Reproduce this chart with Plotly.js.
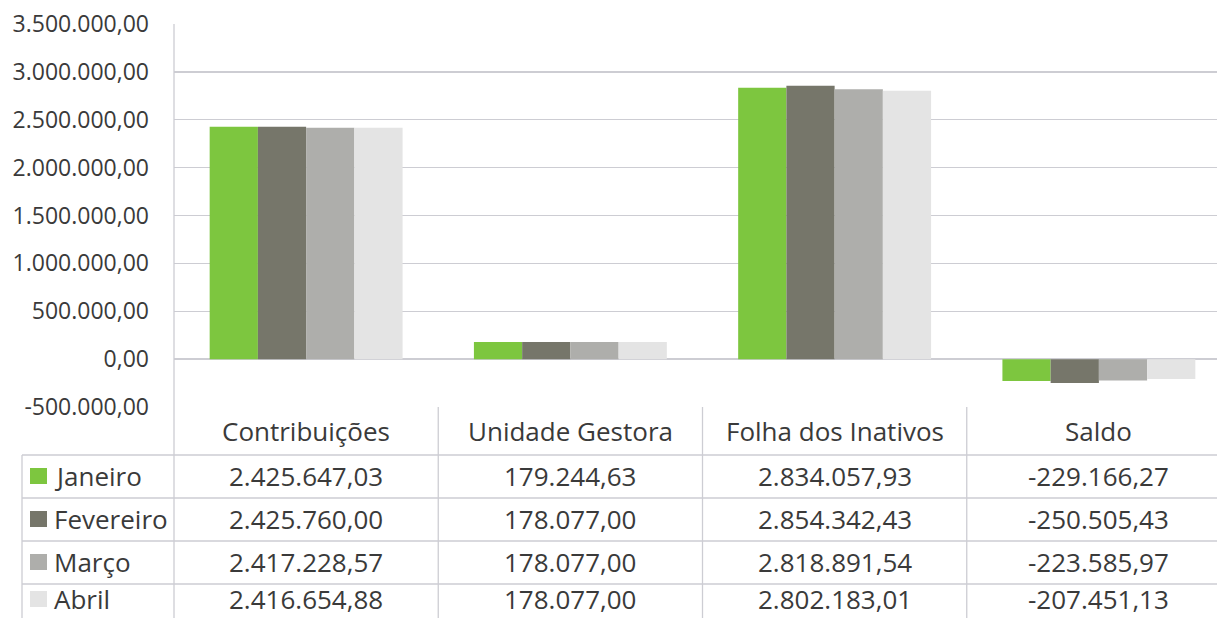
<!DOCTYPE html>
<html>
<head>
<meta charset="utf-8">
<script src="https://cdn.plot.ly/plotly-3.0.1.min.js"></script>
<style>
  html, body { margin: 0; padding: 0; overflow: hidden; background: #fff; }
  #chart { width: 1240px; height: 618px; }
</style>
</head>
<body>
<div id="chart"></div>
<script>
// ---- Data ----
const categories = ["Contribuições", "Unidade Gestora", "Folha dos Inativos", "Saldo"];
const seriesNames = ["Janeiro", "Fevereiro", "Março", "Abril"];
const janeiro   = [2425647.03, 179244.63, 2834057.93, -229166.27];
const fevereiro = [2425760.00, 178077.00, 2854342.43, -250505.43];
const marco     = [2417228.57, 178077.00, 2818891.54, -223585.97];
const abril     = [2416654.88, 178077.00, 2802183.01, -207451.13];
const tickVals  = [-500000, 0, 500000, 1000000, 1500000, 2000000, 2500000, 3000000, 3500000];

const seriesValues = [janeiro, fevereiro, marco, abril];
const colors = ["#7DC63F", "#76766A", "#AEAEAB", "#E4E4E4"];

function fmt(v) {
  const neg = v < 0;
  const s = Math.abs(v).toFixed(2);
  let [ip, dp] = s.split(".");
  ip = ip.replace(/\B(?=(\d{3})+(?!\d))/g, ".");
  return (neg ? "-" : "") + ip + "," + dp;
}

// ---- Geometry helpers (pixel -> paper) ----
const W = 1240, H = 618;
const L = 174, R = 9, T = 24, B = 211;
const plotW = W - L - R, plotH = H - T - B;
const px = x => (x - L) / plotW;
const py = y => (H - B - y) / plotH;

const textColor = "#3A3A3A";
const lineColor = "#CDCDD3";
const font = "Open Sans, Noto Sans, sans-serif";
const tableSize = 26;

const traces = seriesNames.map((name, i) => ({
  type: "bar",
  name: name,
  x: categories,
  y: seriesValues[i],
  marker: { color: colors[i], line: { width: 0 } },
  hoverinfo: "skip"
}));

const shapes = [];
const annotations = [];

// vertical line at plot left, full height
shapes.push({ type: "line", xref: "paper", yref: "paper", x0: 0, x1: 0, y0: py(T), y1: py(H + 5), line: { color: lineColor, width: 1.3 } });
// leftmost table border
shapes.push({ type: "line", xref: "paper", yref: "paper", x0: px(22), x1: px(22), y0: py(455), y1: py(H + 5), line: { color: lineColor, width: 1.3 } });
// category separators in table
for (let k = 0; k < categories.length - 1; k++) {
  shapes.push({ type: "line", xref: "x", yref: "paper", x0: k + 0.5, x1: k + 0.5, y0: py(407), y1: py(H + 5), line: { color: lineColor, width: 1.3 } });
}
// horizontal row borders
[455, 498, 541, 584].forEach(yy => {
  shapes.push({ type: "line", xref: "paper", yref: "paper", x0: px(22), x1: 1.01, y0: py(yy), y1: py(yy), line: { color: lineColor, width: 1.3 } });
});

// header row
categories.forEach((c, k) => {
  annotations.push({ xref: "x", yref: "paper", x: k, y: py(431), text: c, showarrow: false,
    xanchor: "center", yanchor: "middle", font: { family: font, size: tableSize, color: textColor } });
});

// data rows
const rowCenters = [476, 519, 562, 599];
seriesNames.forEach((name, i) => {
  const yc = rowCenters[i];
  // legend key square
  shapes.push({ type: "rect", xref: "paper", yref: "paper", x0: px(30), x1: px(47), y0: py(yc - 8), y1: py(yc + 8),
    fillcolor: colors[i], line: { width: 0 } });
  annotations.push({ xref: "paper", yref: "paper", x: px(52), y: py(yc), text: name, showarrow: false,
    xanchor: "left", yanchor: "middle", font: { family: font, size: tableSize, color: textColor } });
  seriesValues[i].forEach((v, k) => {
    annotations.push({ xref: "x", yref: "paper", x: k, y: py(yc), text: fmt(v), showarrow: false,
      xanchor: "center", yanchor: "middle", font: { family: font, size: tableSize, color: textColor } });
  });
});

const layout = {
  width: W, height: H,
  margin: { l: L, r: R, t: T, b: B, pad: 0 },
  paper_bgcolor: "#ffffff",
  plot_bgcolor: "#ffffff",
  barmode: "group",
  bargap: 0.27,
  bargroupgap: 0,
  showlegend: false,
  xaxis: { range: [-0.5, 3.5], showticklabels: false, showgrid: false, zeroline: false, showline: false, ticks: "", fixedrange: true },
  yaxis: {
    range: [-500000, 3500000],
    tickvals: tickVals,
    ticktext: tickVals.map(fmt),
    showgrid: true, gridcolor: lineColor, gridwidth: 1.3,
    zeroline: true, zerolinecolor: lineColor, zerolinewidth: 1.3,
    showline: false, ticks: "",
    ticklabelstandoff: 24,
    tickfont: { family: font, size: 23, color: textColor },
    fixedrange: true
  },
  shapes: shapes,
  annotations: annotations
};

Plotly.newPlot("chart", traces, layout, { displayModeBar: false, staticPlot: true });
</script>
</body>
</html>
